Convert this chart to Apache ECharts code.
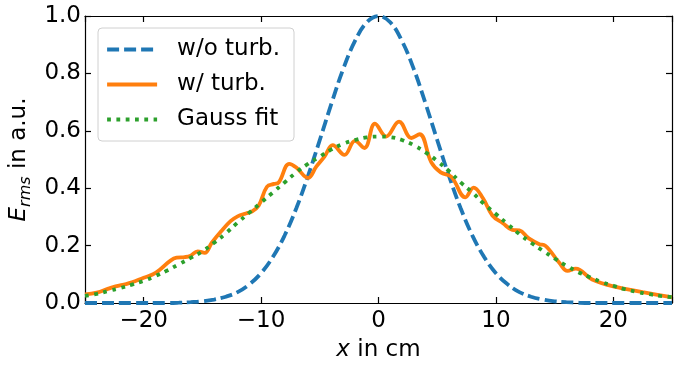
<!DOCTYPE html>
<html>
<head>
<meta charset="utf-8">
<script src="https://cdn.jsdelivr.net/npm/echarts@6/dist/echarts.min.js"></script>
<style>html,body{margin:0;padding:0;background:#fff}#c{width:687px;height:367px}</style>
</head>
<body>
<div id="c"></div>
<script>
// x positions (cm) and values
const blueX = [-25,-24,-23,-22,-21,-20,-19,-18,-17,-16,-15,-14,-13,-12,-11,-10,-9,-8,-7,-6,-5,-4,-3,-2,-1,0,1,2,3,4,5,6,7,8,9,10,11,12,13,14,15,16,17,18,19,20,21,22,23,24,25];
const blueY = [0,0,0,0,0,0,0,0,0.001,0.003,0.006,0.012,0.022,0.038,0.065,0.104,0.16,0.235,0.33,0.443,0.568,0.696,0.816,0.913,0.978,1.0,0.978,0.913,0.816,0.696,0.568,0.443,0.33,0.235,0.16,0.104,0.065,0.038,0.022,0.012,0.006,0.003,0.001,0,0,0,0,0,0,0,0];

const orangeX = [-25,-24,-23,-22.4,-21.5,-21,-20,-19.2,-18.5,-17.8,-17.2,-16.5,-16,-15.4,-14.8,-14.2,-13.4,-12.6,-12,-11.3,-10.8,-10.2,-9.5,-8.9,-8.5,-7.6,-7.0,-6.0,-5.3,-4.6,-3.9,-2.9,-2.0,-1.2,-0.3,0.65,1.75,2.8,3.5,4.5,5.3,6.2,7.4,8.1,8.9,9.7,10.6,11.4,12.0,12.8,13.7,14.2,15.4,16.1,16.8,18.2,20.2,22.5,24.8,25];
const orangeY = [0.03,0.036,0.05,0.058,0.066,0.072,0.088,0.1,0.12,0.145,0.158,0.16,0.165,0.18,0.175,0.21,0.25,0.285,0.302,0.312,0.318,0.34,0.405,0.415,0.42,0.485,0.472,0.436,0.475,0.51,0.55,0.516,0.565,0.54,0.625,0.58,0.632,0.575,0.588,0.49,0.455,0.44,0.368,0.402,0.365,0.305,0.278,0.255,0.253,0.225,0.205,0.2,0.14,0.112,0.12,0.082,0.056,0.038,0.021,0.02];

const greenX = [-25,-24,-23,-22,-21,-20,-19,-18,-17,-16,-15,-14,-13,-12,-11,-10,-9,-8,-7,-6,-5,-4,-3,-2,-1,0,1,2,3,4,5,6,7,8,9,10,11,12,13,14,15,16,17,18,19,20,21,22,23,24,25];
const greenY = [0.025,0.032,0.042,0.052,0.064,0.077,0.094,0.113,0.135,0.157,0.18,0.21,0.243,0.28,0.315,0.35,0.385,0.42,0.455,0.485,0.51,0.535,0.555,0.568,0.577,0.58,0.578,0.568,0.55,0.525,0.495,0.46,0.42,0.385,0.345,0.31,0.275,0.24,0.21,0.182,0.155,0.13,0.108,0.09,0.073,0.06,0.048,0.039,0.031,0.025,0.02];

const seriesNames = ['w/o turb.', 'w/ turb.', 'Gauss fit'];

function pairs(xs, ys) { return xs.map((x, i) => [x, ys[i]]); }

const FONT = 'DejaVu Sans';
const FS = 23;
const chart = echarts.init(document.getElementById('c'), null, {renderer: 'canvas'});

const tickStyle = {show: true, inside: true, length: 6, lineStyle: {color: '#000', width: 1.2}};
const lineStyleAxis = {show: true, onZero: false, lineStyle: {color: '#000', width: 1.2}};

chart.setOption({
  animation: false,
  backgroundColor: '#fff',
  grid: {left: 84, right: 15, top: 16, bottom: 60, containLabel: false},
  legend: {
    left: 98, top: 28, orient: 'vertical',
    padding: [10, 14, 10, 7],
    itemWidth: 50, itemHeight: 14, itemGap: 12,
    backgroundColor: '#fff', borderColor: '#d0d0d0', borderWidth: 1, borderRadius: 4,
    itemStyle: {opacity: 0},
    lineStyle: {width: 4.2},
    textStyle: {fontFamily: FONT, fontSize: FS, color: '#000', padding: [0, 0, 0, 15]},
    data: seriesNames
  },
  xAxis: [{
    type: 'value', min: -25, max: 25, splitNumber: 5, position: 'bottom',
    axisLine: lineStyleAxis, axisTick: tickStyle, splitLine: {show: false},
    axisLabel: {fontFamily: FONT, fontSize: FS, color: '#000', margin: 7,
      formatter: v => (Math.abs(v) === 25 ? '' : (v < 0 ? '\u2212' + Math.abs(v) : String(v)))},
    name: '{i|x}{n| in cm}', nameLocation: 'middle', nameGap: 36,
    nameTextStyle: {fontFamily: FONT, fontSize: FS, color: '#000',
      rich: {i: {fontFamily: FONT, fontSize: FS, fontStyle: 'italic', color: '#000'},
             n: {fontFamily: FONT, fontSize: FS, color: '#000'}}},
  }, {
    type: 'value', min: -25, max: 25, splitNumber: 5, position: 'top',
    axisLine: lineStyleAxis, axisTick: tickStyle, splitLine: {show: false},
    axisLabel: {show: false}
  }],
  yAxis: [{
    type: 'value', min: 0, max: 1, interval: 0.2, position: 'left',
    axisLine: lineStyleAxis, axisTick: tickStyle, splitLine: {show: false},
    axisLabel: {fontFamily: FONT, fontSize: FS, color: '#000', margin: 4, formatter: v => v.toFixed(1)},
    name: '{i|E}{sub|rms}{n| in a.u.}', nameLocation: 'middle', nameGap: 47,
    nameTextStyle: {fontFamily: FONT, fontSize: FS, color: '#000',
      rich: {i: {fontFamily: FONT, fontSize: FS, fontStyle: 'italic', color: '#000'},
             sub: {fontFamily: FONT, fontSize: 16, fontStyle: 'italic', color: '#000', padding: [12, 0, 0, 0]},
             n: {fontFamily: FONT, fontSize: FS, color: '#000'}}}
  }, {
    type: 'value', min: 0, max: 1, interval: 0.2, position: 'right',
    axisLine: lineStyleAxis, axisTick: tickStyle, splitLine: {show: false},
    axisLabel: {show: false}
  }],
  series: [{
    name: seriesNames[0], type: 'line', data: pairs(blueX, blueY), smooth: 0.4,
    showSymbol: false, symbol: 'none',
    lineStyle: {color: '#1f77b4', width: 3.8, type: [12, 5], cap: 'butt'},
    itemStyle: {color: '#1f77b4'}
  }, {
    name: seriesNames[1], type: 'line', data: pairs(orangeX, orangeY), smooth: 0.4,
    showSymbol: false, symbol: 'none',
    lineStyle: {color: '#ff7f0e', width: 3.8, type: 'solid'},
    itemStyle: {color: '#ff7f0e'}
  }, {
    name: seriesNames[2], type: 'line', data: pairs(greenX, greenY), smooth: 0.4,
    showSymbol: false, symbol: 'none',
    lineStyle: {color: '#2ca02c', width: 3.8, type: [3.8, 5.5], cap: 'butt'},
    itemStyle: {color: '#2ca02c'}
  }]
});
</script>
</body>
</html>
